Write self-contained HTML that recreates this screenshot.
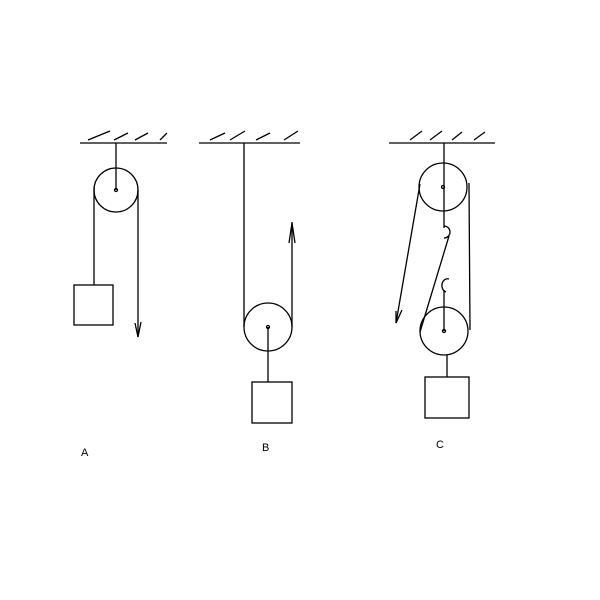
<!DOCTYPE html>
<html><head><style>body{margin:0;background:#fff}</style></head><body>
<svg width="600" height="600" xmlns="http://www.w3.org/2000/svg" style="display:block">
<g stroke="#000" stroke-width="1.3" fill="none">
<!-- A -->
<line x1="80" y1="143" x2="167" y2="143"/>
<line x1="88" y1="140" x2="110" y2="131"/><line x1="114" y1="140" x2="128" y2="133"/><line x1="135" y1="140" x2="148" y2="133"/><line x1="160" y1="140" x2="167" y2="133"/>
<line x1="116" y1="143" x2="116" y2="190"/>
<circle cx="116" cy="190" r="22"/>
<circle cx="116" cy="190" r="1.5"/>
<line x1="94" y1="188" x2="94" y2="285"/>
<rect x="74" y="285" width="39" height="40"/>
<line x1="138" y1="190" x2="138" y2="337"/>
<polyline points="135,323 138,337 141,322"/>
<!-- B -->
<line x1="199" y1="143" x2="300" y2="143"/>
<line x1="210" y1="140" x2="225" y2="133"/><line x1="230" y1="140" x2="245" y2="131"/><line x1="256" y1="140" x2="270" y2="133"/><line x1="284" y1="140" x2="298" y2="131"/>
<line x1="244" y1="143" x2="244" y2="327"/>
<circle cx="268" cy="327" r="24"/>
<circle cx="268" cy="327" r="1.5"/>
<line x1="292" y1="327" x2="292" y2="222"/>
<polyline points="289,243 292,223 295,243"/>
<line x1="268" y1="327" x2="268" y2="382"/>
<rect x="252" y="382" width="40" height="41"/>
<!-- C -->
<line x1="389" y1="143" x2="495" y2="143"/>
<line x1="410" y1="140" x2="422" y2="131"/><line x1="430" y1="140" x2="442" y2="131"/><line x1="452" y1="140" x2="462" y2="132"/><line x1="474" y1="140" x2="485" y2="132"/>
<line x1="444" y1="143" x2="444" y2="228"/>
<circle cx="443" cy="187" r="24"/>
<circle cx="443" cy="187" r="1.5"/>
<path d="M444,226 A6,6 0 1 1 444,238"/>
<path d="M449,279 A5,6 0 1 0 446,292"/>
<line x1="444" y1="290" x2="444" y2="331"/>
<circle cx="444" cy="331" r="24"/>
<circle cx="444" cy="331" r="1.5"/>
<line x1="469" y1="183" x2="470" y2="330"/>
<line x1="420" y1="184" x2="396" y2="323"/>
<polyline points="396,311 396,323 402,310"/>
<line x1="449" y1="236" x2="420" y2="332"/>
<line x1="447" y1="355" x2="447" y2="377"/>
<rect x="425" y="377" width="44" height="41"/>
</g>
<g font-family="Liberation Sans, sans-serif" font-size="11" fill="#000">
<text x="81" y="456">A</text>
<text x="262" y="451">B</text>
<text x="436" y="448">C</text>
</g>
</svg>
</body></html>
